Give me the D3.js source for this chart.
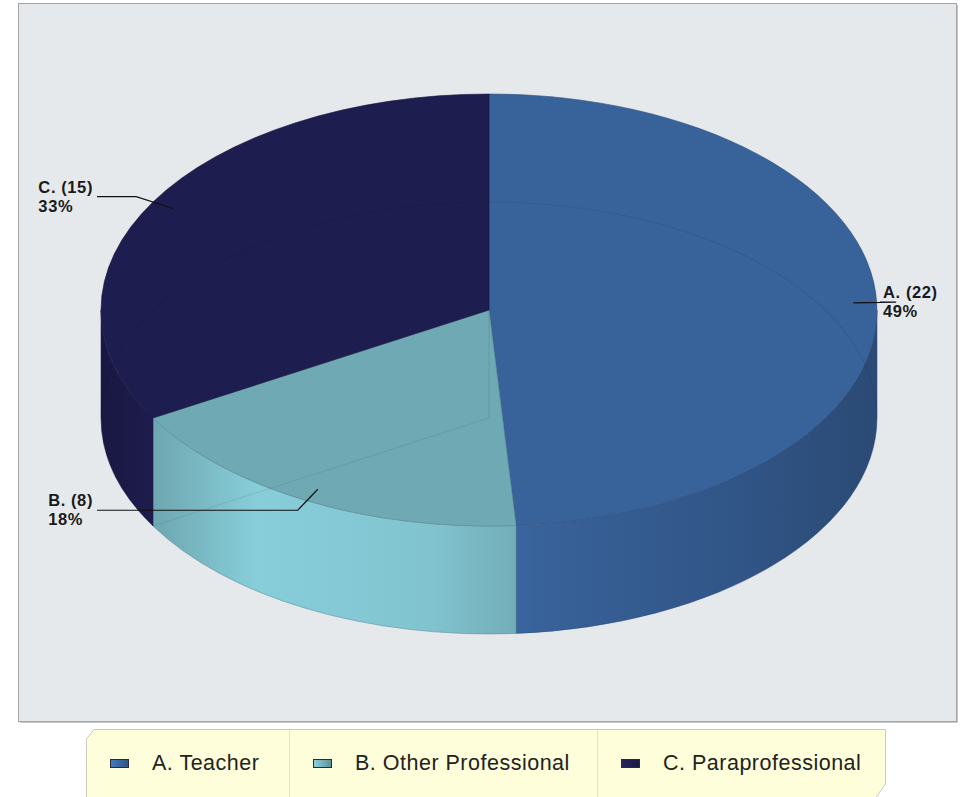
<!DOCTYPE html>
<html>
<head>
<meta charset="utf-8">
<script src="https://cdn.jsdelivr.net/npm/d3@7"></script>
<style>
  html, body { margin: 0; padding: 0; background: #ffffff; }
  svg { display: block; }
  text { font-family: "Liberation Sans", Arial, Helvetica, sans-serif; }
</style>
</head>
<body>
<svg id="chart" width="963" height="797"></svg>
<script>
// Staff categories and head counts
const categories = ["A. Teacher", "B. Other Professional", "C. Paraprofessional"];
const codes = ["A.", "B.", "C."];
const counts = [22, 8, 15];
const colors = ["#38629A", "#6FA9B3", "#1E1D4F"];

const svg = d3.select("#chart");

// Plot panel
svg.append("rect")
  .attr("x", 18.5).attr("y", 3.5)
  .attr("width", 938).attr("height", 718)
  .attr("fill", "#E6E9EC")
  .attr("stroke", "#A4A4A4").attr("stroke-width", 1);
svg.append("line").attr("x1", 957.5).attr("x2", 957.5).attr("y1", 5).attr("y2", 722.5)
  .attr("stroke", "#C8C8C8").attr("stroke-width", 1);
svg.append("line").attr("x1", 20).attr("x2", 957.5).attr("y1", 722.5).attr("y2", 722.5)
  .attr("stroke", "#C8C8C8").attr("stroke-width", 1);

// Elliptical projection of the pie
const cx = 489, cy = 310, rx = 388, ry = 216, depth = 108;
const pt = (a, k = 1, dy = 0) => [cx + rx * k * Math.sin(a), cy - ry * k * Math.cos(a) + dy];
const f = n => n.toFixed(2);

const total = d3.sum(counts);
const pie = d3.pie().sort(null).value(d => d.count).startAngle(0).endAngle(2 * Math.PI);
const arcs = pie(categories.map((c, i) => ({ name: c, code: codes[i], count: counts[i], color: colors[i] })));

const defs = svg.append("defs");
// Horizontal lighting across the wall of the pie
const shade = [[0, 0.84], [0.066, 0.98], [0.2, 1.22], [0.42, 1.16], [0.56, 1.0], [0.8, 0.88], [1, 0.76]];
function scaled(col, k) {
  const c = d3.rgb(col);
  return d3.rgb(Math.min(255, c.r * k), Math.min(255, c.g * k), Math.min(255, c.b * k)).formatHex();
}
arcs.forEach((d, i) => {
  const g = defs.append("linearGradient")
    .attr("id", "side" + i)
    .attr("gradientUnits", "userSpaceOnUse")
    .attr("x1", cx - rx).attr("x2", cx + rx).attr("y1", 0).attr("y2", 0);
  shade.forEach(([o, k]) => g.append("stop").attr("offset", o).attr("stop-color", scaled(d.data.color, k)));
  const lg = defs.append("linearGradient")
    .attr("id", "key" + i).attr("x1", 0).attr("x2", 1).attr("y1", 0).attr("y2", 0);
  lg.append("stop").attr("offset", 0).attr("stop-color", scaled(d.data.color, 1.25));
  lg.append("stop").attr("offset", 1).attr("stop-color", scaled(d.data.color, 0.85));
});

// Outer walls (only the front half is visible)
const front0 = Math.PI / 2, front1 = 3 * Math.PI / 2;
const sides = svg.append("g");
arcs.forEach((d, i) => {
  const s = Math.max(d.startAngle, front0), e = Math.min(d.endAngle, front1);
  if (e <= s) return;
  const a = pt(s), b = pt(e), b2 = pt(e, 1, depth), a2 = pt(s, 1, depth);
  const large = (e - s) > Math.PI ? 1 : 0;
  const path = `M${f(a[0])},${f(a[1])} A${rx},${ry} 0 ${large} 1 ${f(b[0])},${f(b[1])}` +
    ` L${f(b2[0])},${f(b2[1])} A${rx},${ry} 0 ${large} 0 ${f(a2[0])},${f(a2[1])} Z`;
  sides.append("path").attr("d", path)
    .attr("fill", `url(#side${i})`)
    .attr("stroke", scaled(d.data.color, 0.8)).attr("stroke-opacity", 0.5).attr("stroke-width", 1);
});

// Top faces
const tops = svg.append("g");
arcs.forEach((d, i) => {
  const a = pt(d.startAngle), b = pt(d.endAngle);
  const large = (d.endAngle - d.startAngle) > Math.PI ? 1 : 0;
  const path = `M${cx},${cy} L${f(a[0])},${f(a[1])} A${rx},${ry} 0 ${large} 1 ${f(b[0])},${f(b[1])} Z`;
  tops.append("path").attr("d", path)
    .attr("fill", d.data.color)
    .attr("stroke", scaled(d.data.color, 0.8)).attr("stroke-opacity", 0.6).attr("stroke-width", 1);
});

// Hidden edges showing faintly through the translucent body
const ghost = svg.append("g").attr("fill", "none").attr("stroke", "#000").attr("stroke-opacity", 0.07).attr("stroke-width", 1.2);
{
  const l = pt(3 * Math.PI / 2, 1, depth), r = pt(Math.PI / 2, 1, depth);
  ghost.append("path").attr("d", `M${f(l[0])},${f(l[1])} A${rx},${ry} 0 0 1 ${f(r[0])},${f(r[1])}`);
  ghost.append("line").attr("x1", cx).attr("x2", cx).attr("y1", cy).attr("y2", cy + depth);
  arcs.filter(d => Math.sin(d.startAngle) < -0.01).forEach(d => {
    const p = pt(d.startAngle, 1, depth);
    ghost.append("line").attr("x1", cx).attr("y1", cy + depth).attr("x2", p[0]).attr("y2", p[1]);
  });
}

// Value labels with leader lines
const labels = svg.append("g");
arcs.forEach(d => {
  const mid = (d.startAngle + d.endAngle) / 2;
  const left = Math.sin(mid) < 0;
  const anchor = pt(mid, 0.94);
  const elbow = pt(mid, 1.05);
  const endX = left ? cx - rx - 4 : cx + rx + 3;
  const ly = elbow[1];
  labels.append("polyline")
    .attr("points", [anchor, [elbow[0], ly], [endX, ly]].map(p => p.map(f).join(",")).join(" "))
    .attr("fill", "none").attr("stroke", "#111").attr("stroke-width", 1.2);
  const pct = Math.round(d.data.count / total * 100) + "%";
  const t = labels.append("text")
    .attr("font-size", 16.5).attr("font-weight", "bold").attr("fill", "#1a1a1a")
    .attr("letter-spacing", 0.6);
  t.append("tspan").attr("y", ly - 4).text(`${d.data.code} (${d.data.count})`);
  t.append("tspan").attr("y", ly + 15).text(pct);
  const w = d3.max(t.selectAll("tspan").nodes(), n => n.getComputedTextLength());
  const x = left ? endX - 4 - w : endX + 3;
  t.selectAll("tspan").attr("x", x);
});

// Legend
const lg = svg.append("g");
const L = { x0: 86, x1: 886, y0: 729, y1: 800 };
lg.append("path")
  .attr("d", `M${L.x0 + 0.5},${L.y0 + 10} L${L.x0 + 8},${L.y0 + 0.5} L${L.x1 - 0.5},${L.y0 + 0.5} L${L.x1 - 0.5},${L.y1 - 16} L${L.x1 - 12},${L.y1} L${L.x0 + 0.5},${L.y1} Z`)
  .attr("fill", "#FEFEDA").attr("stroke", "#C9C9C0").attr("stroke-width", 1);
const cols = [86, 289, 597];
const legendX = d3.scaleOrdinal().domain(categories).range(cols);
categories.forEach((c, i) => {
  const x0 = legendX(c);
  if (i > 0) lg.append("line").attr("x1", x0 + 0.5).attr("x2", x0 + 0.5).attr("y1", L.y0 + 1).attr("y2", L.y1)
    .attr("stroke", "#E2E2C8").attr("stroke-width", 1);
  lg.append("rect").attr("x", x0 + 24.5).attr("y", 759.5).attr("width", 18).attr("height", 8)
    .attr("fill", `url(#key${i})`).attr("stroke", "#2a2a3a").attr("stroke-width", 1);
  lg.append("text").attr("x", x0 + 66).attr("y", 770)
    .attr("font-size", 21.5).attr("letter-spacing", 0.5).attr("fill", "#222").text(c);
});
</script>
</body>
</html>
